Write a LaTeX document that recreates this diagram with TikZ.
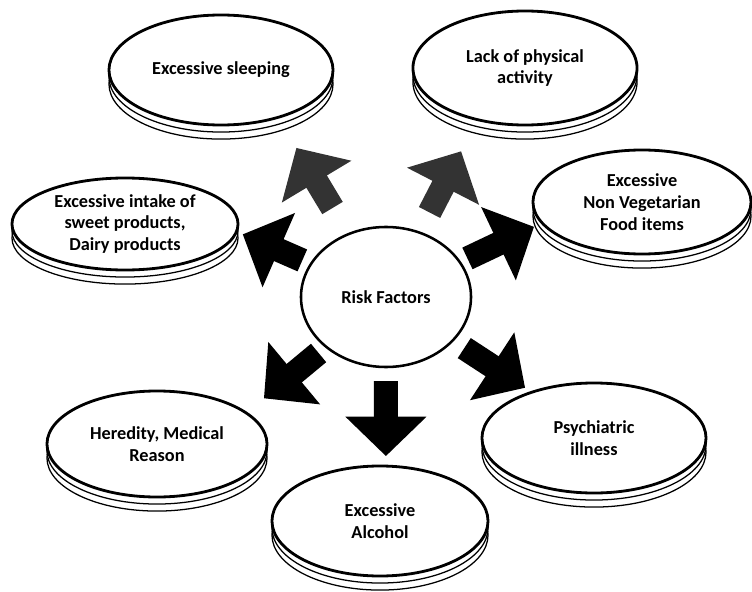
\documentclass[tikz,border=0pt]{standalone}
\usepackage{fontspec}
\setmainfont{Carlito}
\usetikzlibrary{shapes.geometric,arrows.meta,calc,shadows}

\begin{document}
\begin{tikzpicture}[
    x=0.025cm, y=-0.025cm,
    factor/.style={ellipse, draw, line width=2pt, fill=white, inner sep=0pt, align=center,
        font=\fontsize{13}{15.5}\selectfont\bfseries,
        general shadow={shadow xshift=0pt, shadow yshift=-10pt, fill=white, draw=black, line width=0.9pt},
        general shadow={shadow xshift=0pt, shadow yshift=-5pt, fill=white, draw=black, line width=0.9pt}},
    hub/.style={ellipse, draw, line width=1.8pt, fill=white, inner sep=0pt,
        font=\fontsize{13}{15.5}\selectfont\bfseries},
    blockarrow/.style={line width=17pt, -{Triangle[width=56pt, length=28pt]}}
]
    \useasboundingbox (0,0) rectangle (752,592);

    \node[hub, minimum width=4.25cm, minimum height=3.5cm] (risk) at (386, 297) {Risk Factors};

    \node[factor, minimum width=5.6cm, minimum height=2.75cm] (sleep) at (221, 70) {Excessive sleeping};
    \node[factor, minimum width=5.6cm, minimum height=2.85cm] (activity) at (525, 68) {Lack of physical\\activity};
    \node[factor, minimum width=5.65cm, minimum height=2.3cm] (sweet) at (125, 224) {Excessive intake of\\sweet products,\\Dairy products};
    \node[factor, minimum width=5.45cm, minimum height=2.6cm] (nonveg) at (642, 202) {Excessive\\Non Vegetarian\\Food items};
    \node[factor, minimum width=5.5cm, minimum height=2.65cm] (heredity) at (157, 444) {Heredity, Medical\\Reason};
    \node[factor, minimum width=5.4cm, minimum height=2.75cm] (alcohol) at (380, 521) {Excessive\\Alcohol};
    \node[factor, minimum width=5.6cm, minimum height=2.75cm] (psych) at (594, 438) {Psychiatric\\illness};

    % arrows out of the hub
    \draw[blockarrow, black!80] ($(risk)!0.37!-5:(sleep)$) -- ($(risk)!0.62!-5:(sleep)$);
    \draw[blockarrow, black!80] ($(risk)!0.355!4:(activity)$) -- ($(risk)!0.612!4:(activity)$);
    \draw[blockarrow] ($(risk)!0.337!-8:(sweet)$) -- ($(risk)!0.577!-8:(sweet)$);
    \draw[blockarrow] ($(risk)!0.33!5:(nonveg)$) -- ($(risk)!0.6!5:(nonveg)$);
    \draw[blockarrow] ($(risk)!0.322!7:(heredity)$) -- ($(risk)!0.583!7:(heredity)$);
    \draw[blockarrow] ($(risk)!0.375!1.5:(alcohol)$) -- ($(risk)!0.71!1.5:(alcohol)$);
    \draw[blockarrow] ($(risk)!0.372!1:(psych)$) -- ($(risk)!0.661!1:(psych)$);
\end{tikzpicture}
\end{document}
